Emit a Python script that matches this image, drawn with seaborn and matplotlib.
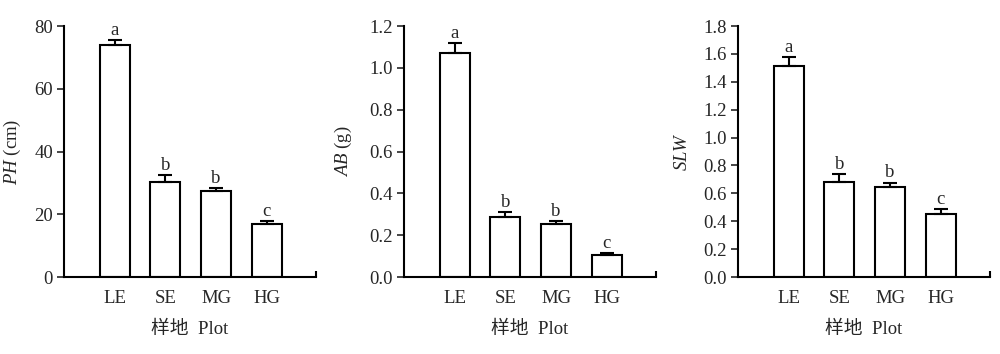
import matplotlib
matplotlib.use("Agg")
import matplotlib.pyplot as plt
import seaborn as sns
import pandas as pd
import numpy as np

categories = ["LE", "SE", "MG", "HG"]
ph_values = [73.8, 30.4, 27.4, 16.9]
ph_err = [1.6, 2.0, 1.0, 0.9]
ab_values = [1.07, 0.289, 0.252, 0.107]
ab_err = [0.048, 0.021, 0.014, 0.009]
slw_values = [1.515, 0.684, 0.648, 0.450]
slw_err = [0.062, 0.057, 0.029, 0.038]
letters_ph = ["a", "b", "b", "c"]
letters_ab = ["a", "b", "b", "c"]
letters_slw = ["a", "b", "b", "c"]
ylabels = [r"$\mathit{PH}$ (cm)", r"$\mathit{AB}$ (g)", r"$\mathit{SLW}$"]
xlabel = "样地  Plot"
ylims = [(0, 80), (0, 1.2), (0, 1.8)]
yticks = [np.arange(0, 81, 20), np.arange(0, 1.21, 0.2), np.arange(0, 1.81, 0.2)]
ytick_fmt = ["{:.0f}", "{:.1f}", "{:.1f}"]

sns.set_style("ticks")
plt.rcParams["font.family"] = ["Liberation Serif", "Noto Sans CJK SC"]
plt.rcParams["font.size"] = 13.5
plt.rcParams["mathtext.fontset"] = "custom"
plt.rcParams["mathtext.it"] = "Liberation Serif:italic"
plt.rcParams["mathtext.rm"] = "Liberation Serif"

FS = 13.5
fig = plt.figure(figsize=(10, 3.54), dpi=100)
lefts = [0.064, 0.404, 0.738]
ylabel_x = [23, 354, 691]
datasets = [(ph_values, ph_err, letters_ph), (ab_values, ab_err, letters_ab), (slw_values, slw_err, letters_slw)]

for i, (vals, errs, lets) in enumerate(datasets):
    ax = fig.add_axes([lefts[i], 0.2175, 0.252, 0.709])
    df = pd.DataFrame({"cat": categories, "val": vals})
    sns.barplot(data=df, x="cat", y="val", order=categories, color="white",
                edgecolor="black", linewidth=1.5, width=0.59, errorbar=None, ax=ax,
                saturation=1)
    x = np.arange(len(categories))
    ax.errorbar(x, vals, yerr=[np.zeros(len(vals)), errs], fmt="none", ecolor="black",
                elinewidth=1.5, capsize=5, capthick=1.5, zorder=3)
    for xi, v, e, l in zip(x, vals, errs, lets):
        ax.annotate(l, (xi, v + e), xytext=(0, 0.8), textcoords="offset points",
                    ha="center", va="bottom", fontsize=FS)
    ax.set_xlim(-1.0, 3.97)
    ax.set_ylim(*ylims[i])
    ax.set_yticks(yticks[i])
    ax.set_yticklabels([ytick_fmt[i].format(t) for t in yticks[i]])
    ax.tick_params(axis="x", length=0, pad=9, labelsize=FS)
    ax.tick_params(axis="y", direction="out", length=5, width=1.2, labelsize=FS, pad=3)
    for s in ["top", "right"]:
        ax.spines[s].set_visible(False)
    for s in ["left", "bottom"]:
        ax.spines[s].set_linewidth(1.5)
        ax.spines[s].set_color("black")
    ax.plot([1, 1], [0, 0.025], transform=ax.transAxes, color="black", lw=1.5,
            clip_on=False, solid_capstyle="butt")
    ax.set_xlabel(xlabel, fontsize=FS, labelpad=10)
    ax.set_ylabel(ylabels[i], fontsize=FS)
    ax.yaxis.set_label_coords((ylabel_x[i] / 1000 - lefts[i]) / 0.252, 0.5)

fig.savefig("out.png", dpi=100)
